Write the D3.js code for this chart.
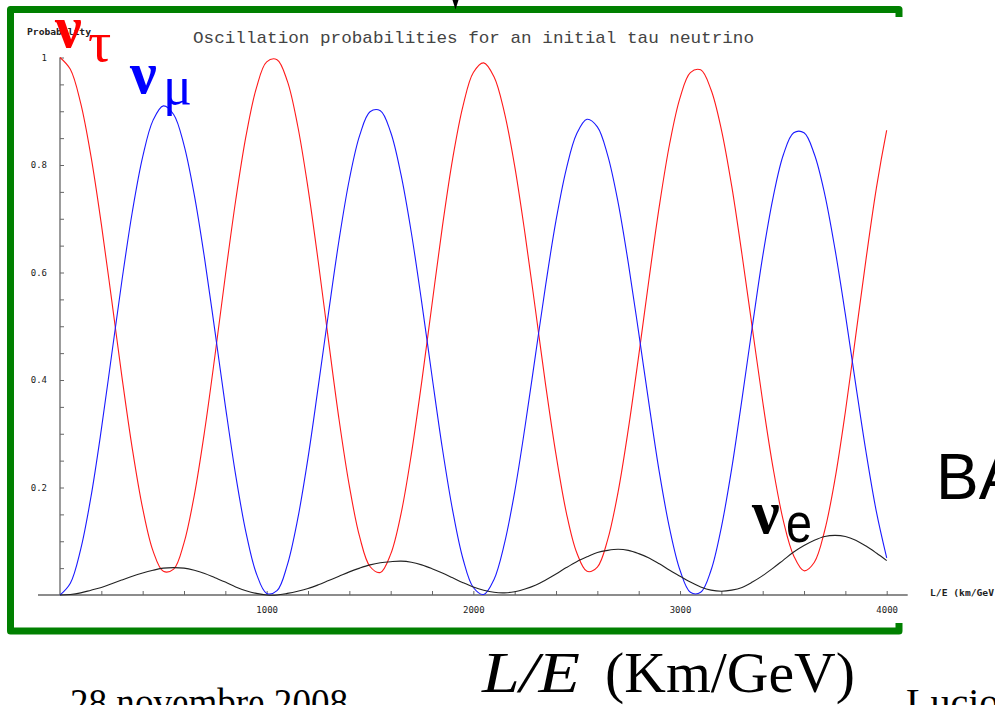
<!DOCTYPE html>
<html><head><meta charset="utf-8">
<script src="https://cdn.jsdelivr.net/npm/d3@7"></script>
<style>html,body{margin:0;padding:0;background:#fff;overflow:hidden}</style>
</head><body>
<svg id="c" width="995" height="705"></svg>
<script>
const LE = [0,50,100,150,200,250,300,350,400,450,500,550,600,650,700,750,800,850,900,950,1000,
1050,1100,1150,1200,1250,1300,1350,1400,1450,1500,1550,1600,1650,1700,1750,1800,1850,1900,1950,2000,
2050,2100,2150,2200,2250,2300,2350,2400,2450,2500,2550,2600,2650,2700,2750,2800,2850,2900,2950,3000,
3050,3100,3150,3200,3250,3300,3350,3400,3450,3500,3550,3600,3650,3700,3750,3800,3850,3900,3950,4000];

const probTau = [1.000,0.978,0.915,0.816,0.690,0.549,0.405,0.272,0.161,0.082,0.044,
0.048,0.097,0.186,0.306,0.446,0.594,0.734,0.854,0.943,0.992,
0.996,0.956,0.873,0.757,0.619,0.471,0.327,0.203,0.108,0.053,
0.042,0.076,0.151,0.262,0.396,0.541,0.685,0.812,0.910,0.972,
0.990,0.964,0.898,0.798,0.672,0.532,0.390,0.261,0.153,0.079,
0.044,0.052,0.103,0.191,0.309,0.445,0.588,0.724,0.840,0.925,
0.972,0.977,0.940,0.866,0.761,0.633,0.496,0.360,0.237,0.138,
0.073,0.045,0.061,0.120,0.216,0.341,0.482,0.625,0.757,0.865];

const probMu = [0,0.022,0.085,0.183,0.308,0.447,0.586,0.713,0.815,0.883,0.910,
0.894,0.837,0.744,0.625,0.490,0.352,0.223,0.116,0.040,0.003,
0.008,0.056,0.141,0.255,0.389,0.527,0.660,0.773,0.855,0.899,
0.901,0.861,0.782,0.674,0.545,0.407,0.273,0.157,0.067,0.014,
0.001,0.029,0.095,0.192,0.313,0.445,0.577,0.697,0.793,0.858,
0.885,0.871,0.818,0.731,0.617,0.488,0.355,0.228,0.123,0.046,
0.005,0.005,0.046,0.126,0.235,0.365,0.500,0.630,0.739,0.819,
0.860,0.860,0.820,0.746,0.643,0.522,0.392,0.266,0.155,0.069];

const probE = [0,0.001,0.004,0.009,0.014,0.021,0.028,0.035,0.041,0.046,0.050,
0.051,0.050,0.046,0.040,0.032,0.024,0.015,0.008,0.003,0.000,
0.000,0.003,0.007,0.012,0.019,0.027,0.035,0.043,0.050,0.056,
0.060,0.062,0.063,0.061,0.056,0.049,0.041,0.032,0.023,0.015,
0.009,0.005,0.004,0.006,0.011,0.018,0.028,0.039,0.051,0.062,
0.071,0.079,0.083,0.085,0.083,0.077,0.069,0.058,0.046,0.035,
0.024,0.015,0.009,0.007,0.009,0.014,0.024,0.036,0.050,0.065,
0.080,0.092,0.102,0.109,0.111,0.109,0.102,0.091,0.078,0.064];

const xMinorTicks = [200,400,600,800,1000,1200,1400,1600,1800,2000,2200,2400,2600,2800,3000,3200,3400,3600,3800,4000];
const xLabelTicks = [1000,2000,3000,4000];
const yMinorTicks = [0.05,0.1,0.15,0.2,0.25,0.3,0.35,0.4,0.45,0.5,0.55,0.6,0.65,0.7,0.75,0.8,0.85,0.9,0.95,1];
const yLabelTicks = [0.2,0.4,0.6,0.8,1];

const title = "Oscillation probabilities for an initial tau neutrino";
const yTitle = "Probability";
const xTitle = "L/E (km/GeV";

const svg = d3.select("#c");
svg.append("rect").attr("width",995).attr("height",705).attr("fill","#fff");

const x = d3.scaleLinear().domain([0,4000]).range([60,886.7]);
const y = d3.scaleLinear().domain([0,1]).range([595,57.5]);

// green frame
svg.append("path")
  .attr("d","M899,17 V9.5 H10.5 V631 H899 V623")
  .attr("fill","none").attr("stroke","#008000").attr("stroke-width",7)
  .attr("stroke-linejoin","round");

// cut-off glyph at the top
svg.append("path").attr("d","M452.5,0 L458.5,0 L455.5,9.5 Z").attr("fill","#000");

const axisCol = "#666";
svg.append("line").attr("x1",38).attr("x2",907.7).attr("y1",y(0)).attr("y2",y(0))
  .attr("stroke",axisCol).attr("stroke-width",1.3);
svg.append("line").attr("x1",x(0)).attr("x2",x(0)).attr("y1",y(1)).attr("y2",y(0))
  .attr("stroke",axisCol).attr("stroke-width",1.3);

const gxt = svg.append("g").attr("transform",`translate(0,${y(0)})`)
  .call(d3.axisTop(x).tickValues(xMinorTicks).tickSize(4).tickSizeOuter(0).tickFormat(""));
gxt.select(".domain").remove();
gxt.selectAll("line").attr("stroke",axisCol);
const gxl = svg.append("g").attr("transform",`translate(0,${y(0)})`)
  .call(d3.axisBottom(x).tickValues(xLabelTicks).tickSize(0).tickPadding(12).tickFormat(d3.format("d")));
gxl.select(".domain").remove();
gxl.selectAll("text").attr("font-family","'DejaVu Sans Mono', monospace").attr("font-size",9).attr("fill","#222");

const gyt = svg.append("g").attr("transform",`translate(${x(0)},0)`)
  .call(d3.axisRight(y).tickValues(yMinorTicks).tickSize(4).tickSizeOuter(0).tickFormat(""));
gyt.select(".domain").remove();
gyt.selectAll("line").attr("stroke",axisCol);
const gyl = svg.append("g").attr("transform",`translate(${x(0)},0)`)
  .call(d3.axisLeft(y).tickValues(yLabelTicks).tickSize(0).tickPadding(13)
    .tickFormat(d => d === 1 ? "1" : d3.format(".1f")(d)));
gyl.select(".domain").remove();
gyl.selectAll("text").attr("font-family","'DejaVu Sans Mono', monospace").attr("font-size",9).attr("fill","#222");

svg.append("text").attr("x",27).attr("y",35).text(yTitle)
  .attr("font-family","'DejaVu Sans Mono', monospace").attr("font-size",8.5).attr("font-weight","bold")
  .attr("fill","#222").attr("textLength",64).attr("lengthAdjust","spacingAndGlyphs");
svg.append("text").attr("x",930).attr("y",596).text(xTitle)
  .attr("font-family","'DejaVu Sans Mono', monospace").attr("font-size",8.5).attr("font-weight","bold")
  .attr("fill","#222").attr("textLength",64).attr("lengthAdjust","spacingAndGlyphs");

svg.append("text").attr("x",193).attr("y",43).text(title)
  .attr("font-family","'Liberation Mono', 'Courier New', monospace").attr("font-size",17)
  .attr("fill","#444").attr("textLength",561).attr("lengthAdjust","spacingAndGlyphs");

// curves
const line = vals => d3.line().x((d,i)=>x(LE[i])).y(d=>y(d)).curve(d3.curveCatmullRom.alpha(0.5))(vals);
svg.append("path").attr("d",line(probTau)).attr("fill","none").attr("stroke","#ff1a1a").attr("stroke-width",1.1);
svg.append("path").attr("d",line(probMu)).attr("fill","none").attr("stroke","#1a1aff").attr("stroke-width",1.1);
svg.append("path").attr("d",line(probE)).attr("fill","none").attr("stroke","#222").attr("stroke-width",1.1);

// big neutrino labels
const serif = "'Liberation Serif', 'DejaVu Serif', serif";
svg.append("text").attr("x",55).attr("y",47).text("ν").attr("font-family",serif).attr("font-weight","bold").attr("font-size",60).attr("fill","#f00");
svg.append("text").attr("x",88).attr("y",61).text("τ").attr("font-family",serif).attr("font-size",58).attr("fill","#f00");
svg.append("text").attr("x",130).attr("y",93).text("ν").attr("font-family",serif).attr("font-weight","bold").attr("font-size",60).attr("fill","#00f");
svg.append("text").attr("x",163).attr("y",104).text("μ").attr("font-family",serif).attr("font-size",54).attr("fill","#00f");
svg.append("text").attr("x",752).attr("y",533).text("ν").attr("font-family",serif).attr("font-weight","bold").attr("font-size",62).attr("fill","#000");
svg.append("text").attr("x",786).attr("y",542).text("e").attr("font-family","'Liberation Sans', Arial, sans-serif")
  .attr("font-size",56).attr("fill","#000").attr("textLength",26).attr("lengthAdjust","spacingAndGlyphs");

// slide texts around the chart
svg.append("text").attr("x",936).attr("y",499).text("BA").attr("font-family","'Liberation Sans', Arial, sans-serif")
  .attr("font-size",64).attr("fill","#000");
svg.append("text").attr("x",482).attr("y",692).text("L/E").attr("font-family",serif).attr("font-style","italic")
  .attr("font-size",56).attr("fill","#000").attr("textLength",98).attr("lengthAdjust","spacingAndGlyphs");
svg.append("text").attr("x",605).attr("y",692).text("(Km/GeV)").attr("font-family",serif)
  .attr("font-size",56).attr("fill","#000").attr("textLength",250).attr("lengthAdjust","spacingAndGlyphs");
svg.append("text").attr("x",70).attr("y",716).text("28 novembre 2008").attr("font-family",serif)
  .attr("font-size",40).attr("fill","#000").attr("textLength",278).attr("lengthAdjust","spacingAndGlyphs");
svg.append("text").attr("x",906).attr("y",716).text("Lucio").attr("font-family",serif)
  .attr("font-size",40).attr("fill","#000");
</script>
</body></html>
